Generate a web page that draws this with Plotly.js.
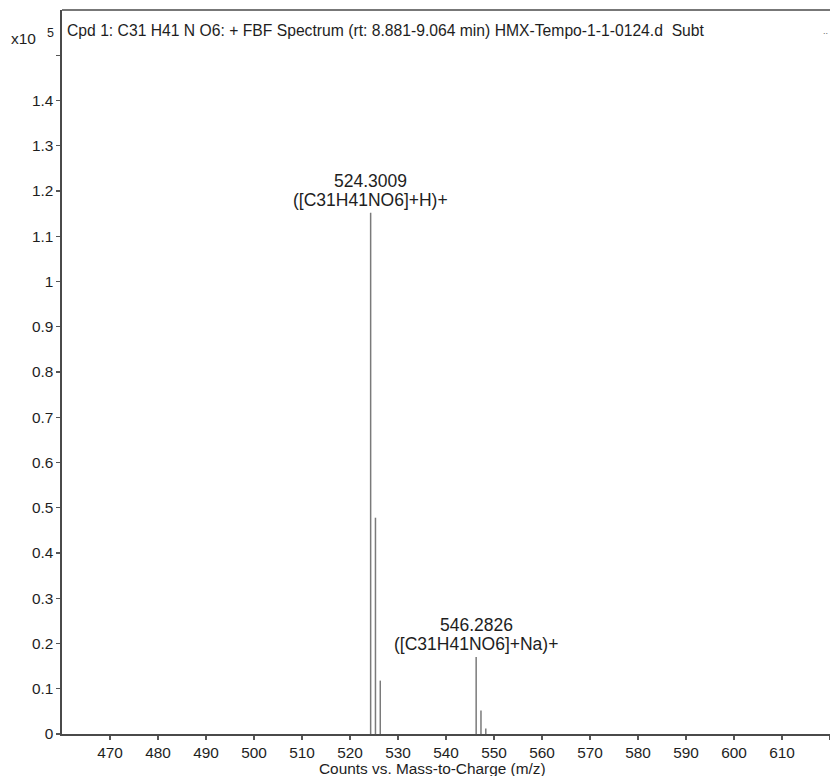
<!DOCTYPE html>
<html>
<head>
<meta charset="utf-8">
<script src="https://cdn.plot.ly/plotly-3.0.1.min.js"></script>
<style>html,body{margin:0;padding:0;background:#fff;}#chart{width:830px;height:776px;}</style>
</head>
<body>
<div id="chart"></div>
<script>
// m/z values and counts (x10^5)
const mzValues = [524.3009, 525.3042, 526.3075, 546.2826, 547.2860, 548.2893];
const counts   = [1.152, 0.478, 0.118, 0.170, 0.052, 0.012];
const labelMz    = [524.3009, 546.2826];
const labelY     = [1.152, 0.170];
const labelMass  = ["524.3009", "546.2826"];
const labelIon   = ["([C31H41NO6]+H)+", "([C31H41NO6]+Na)+"];
const xTicks = [470, 480, 490, 500, 510, 520, 530, 540, 550, 560, 570, 580, 590, 600, 610, 620];
const yTicks = [0, 0.1, 0.2, 0.3, 0.4, 0.5, 0.6, 0.7, 0.8, 0.9, 1, 1.1, 1.2, 1.3, 1.4, 1.5];
const yTickText = ["0","0.1","0.2","0.3","0.4","0.5","0.6","0.7","0.8","0.9","1","1.1","1.2","1.3","1.4",""];
const titleText = "Cpd 1: C31 H41 N O6: + FBF Spectrum (rt: 8.881-9.064 min) HMX-Tempo-1-1-0124.d  Subt";
const xTitle = "Counts vs. Mass-to-Charge (m/z)";

const FONT = "Liberation Sans, Arial, sans-serif";
const TXT = "#1e1e1e";
const stickX = [], stickY = [];
mzValues.forEach((m, i) => { stickX.push(m, m, null); stickY.push(0, counts[i], null); });

const trace = {
  x: stickX, y: stickY, type: "scatter", mode: "lines",
  line: {color: "#7a7a7a", width: 1.5}, hoverinfo: "skip", showlegend: false
};

const annotations = [];
labelMz.forEach((m, i) => {
  annotations.push({x: m, y: labelY[i], xref: "x", yref: "y", text: labelMass[i],
    showarrow: false, yanchor: "middle", xanchor: "center", yshift: 32,
    font: {family: FONT, size: 17.5, color: TXT}});
  annotations.push({x: m, y: labelY[i], xref: "x", yref: "y", text: labelIon[i],
    showarrow: false, yanchor: "middle", xanchor: "center", yshift: 13,
    font: {family: FONT, size: 17.5, color: TXT}});
});

const layout = {
  width: 830, height: 776,
  margin: {l: 62, r: 0, t: 10, b: 42},
  paper_bgcolor: "#fff", plot_bgcolor: "#fff",
  font: {family: FONT, size: 15.4, color: TXT},
  xaxis: {range: [460, 620], tickvals: xTicks, ticks: "outside", ticklen: 4, tickwidth: 1.2,
    tickcolor: "#555", showline: true, linecolor: "#4a4a4a", linewidth: 1.6, showgrid: false,
    zeroline: false, tickfont: {family: FONT, size: 15.4, color: TXT}},
  yaxis: {range: [0, 1.6], tickvals: yTicks, ticktext: yTickText, ticks: "outside", ticklen: 4,
    tickwidth: 1.2, tickcolor: "#555", showline: true, linecolor: "#4a4a4a", linewidth: 1.6,
    showgrid: false, zeroline: false, tickfont: {family: FONT, size: 15.4, color: TXT}},
  shapes: [{type: "line", xref: "paper", yref: "paper", x0: 0, x1: 1, y0: 1, y1: 1,
    line: {color: "#4a4a4a", width: 1.6}}],
  annotations: annotations.concat([
    {xref: "paper", yref: "paper", x: 0.004, y: 1, xanchor: "left", yanchor: "middle", yshift: -20,
     text: titleText, showarrow: false, font: {family: FONT, size: 15.7, color: TXT}},
    {xref: "paper", yref: "paper", x: 0, y: 1, xanchor: "right", yanchor: "middle", xshift: -24, yshift: -28,
     text: "x10", showarrow: false, font: {family: FONT, size: 15.5, color: TXT}},
    {xref: "paper", yref: "paper", x: 0, y: 1, xanchor: "right", yanchor: "middle", xshift: -6, yshift: -23,
     text: "5", showarrow: false, font: {family: FONT, size: 12.5, color: TXT}},
    {xref: "paper", yref: "paper", x: 1, y: 1, xanchor: "right", yanchor: "middle", yshift: -21,
     text: "..", showarrow: false, font: {family: FONT, size: 9, color: "#666"}},
    {xref: "paper", yref: "paper", x: 0.483, y: 0, xanchor: "center", yanchor: "middle", yshift: -34,
     text: xTitle, showarrow: false, font: {family: FONT, size: 15.4, color: TXT}}
  ])
};

Plotly.newPlot("chart", [trace], layout, {displayModeBar: false, staticPlot: true});
</script>
</body>
</html>
